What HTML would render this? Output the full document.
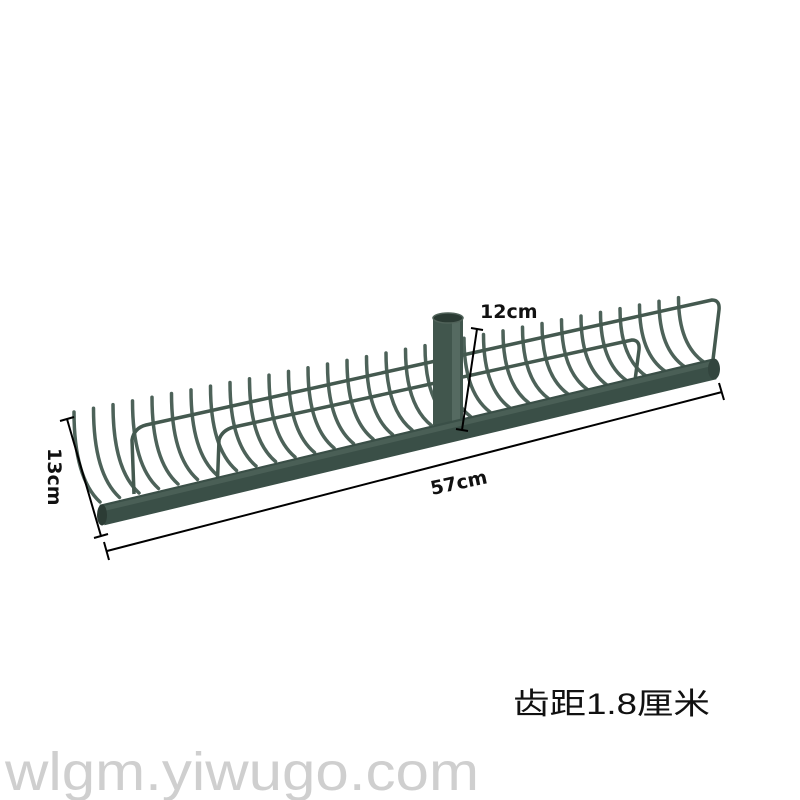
<!DOCTYPE html>
<html><head><meta charset="utf-8"><style>
html,body{margin:0;padding:0;background:#fff;}
svg{display:block;}
</style></head><body>
<svg width="800" height="800" viewBox="0 0 800 800" xmlns="http://www.w3.org/2000/svg">
<defs>
<path id="t" d="M0,0 Q-26,-24 -26,-90" fill="none" stroke="#4d6259" stroke-width="3.5" stroke-linecap="round" vector-effect="non-scaling-stroke"/>
</defs>
<rect width="800" height="800" fill="#fff"/>
<g>
<use href="#t" transform="translate(100,502) scale(1,1)"/>
<use href="#t" transform="translate(119.5,497.5) scale(1,0.991)"/>
<use href="#t" transform="translate(139,493) scale(1,0.982)"/>
<use href="#t" transform="translate(158.5,488.5) scale(1,0.973)"/>
<use href="#t" transform="translate(178,484) scale(1,0.964)"/>
<use href="#t" transform="translate(197.5,479.5) scale(1,0.955)"/>
<use href="#t" transform="translate(217,475) scale(1,0.946)"/>
<use href="#t" transform="translate(236.5,470.5) scale(1,0.937)"/>
<use href="#t" transform="translate(256,466) scale(1,0.928)"/>
<use href="#t" transform="translate(275.5,461.5) scale(1,0.919)"/>
<use href="#t" transform="translate(295,457) scale(1,0.91)"/>
<use href="#t" transform="translate(314.5,452.5) scale(1,0.901)"/>
<use href="#t" transform="translate(334,448) scale(1,0.892)"/>
<use href="#t" transform="translate(353.5,443.5) scale(1,0.883)"/>
<use href="#t" transform="translate(373,439) scale(1,0.874)"/>
<use href="#t" transform="translate(392.5,434.5) scale(1,0.865)"/>
<use href="#t" transform="translate(412,430) scale(1,0.856)"/>
<use href="#t" transform="translate(431.5,425.5) scale(1,0.847)"/>
<use href="#t" transform="translate(451,421) scale(1,0.838)"/>
<use href="#t" transform="translate(470.5,416.5) scale(1,0.829)"/>
<use href="#t" transform="translate(490,412) scale(1,0.82)"/>
<use href="#t" transform="translate(509.5,407.5) scale(1,0.811)"/>
<use href="#t" transform="translate(529,403) scale(1,0.802)"/>
<use href="#t" transform="translate(548.5,398.5) scale(1,0.793)"/>
<use href="#t" transform="translate(568,394) scale(1,0.784)"/>
<use href="#t" transform="translate(587.5,389.5) scale(1,0.775)"/>
<use href="#t" transform="translate(607,385) scale(1,0.766)"/>
<use href="#t" transform="translate(626.5,380.5) scale(1,0.757)"/>
<use href="#t" transform="translate(646,376) scale(1,0.748)"/>
<use href="#t" transform="translate(665.5,371.5) scale(1,0.739)"/>
<use href="#t" transform="translate(685,367) scale(1,0.73)"/>
<use href="#t" transform="translate(704.5,362.5) scale(1,0.721)"/>
</g>
<g fill="none" stroke="#44594f" stroke-width="3.5" stroke-linejoin="round">
<path d="M134,494 L132,440 Q134,428 146,425 L712,300 Q720,300 719,310 L712,368"/>
<path d="M217,494 L219,440 Q222,430 234,427 L632,340 Q640,340 639,350 L634,388"/>
</g>
<rect x="433" y="318" width="30" height="107" fill="#41564d"/>
<rect x="452" y="318" width="8" height="107" fill="#556a61"/>
<ellipse cx="448" cy="318" rx="15" ry="5" fill="#2a3a33" stroke="#506259" stroke-width="1.5"/>
<line x1="102" y1="515" x2="714" y2="369" stroke="#3a4f47" stroke-width="21"/>
<line x1="102" y1="509" x2="714" y2="363" stroke="#4a5f56" stroke-width="5"/>
<ellipse cx="714" cy="369" rx="6" ry="10.5" fill="#33453e"/>
<ellipse cx="102" cy="515" rx="5" ry="10.5" fill="#2c3c35"/>
<g stroke="#000" stroke-width="2" fill="none">
<line x1="67" y1="419" x2="101" y2="536"/><line x1="60" y1="421" x2="74" y2="417"/><line x1="94" y1="538" x2="108" y2="534"/>
<line x1="107" y1="551" x2="722" y2="392"/><line x1="104" y1="542" x2="109" y2="560"/><line x1="719" y1="383" x2="724" y2="400"/>
<line x1="477" y1="329" x2="462" y2="430"/><line x1="471" y1="328" x2="483" y2="330"/><line x1="456" y1="429" x2="468" y2="431"/>
</g>
<g font-family="'DejaVu Sans','Liberation Sans',sans-serif" font-weight="bold" font-size="19" fill="#111">
<text x="480" y="318">12cm</text>
<text x="0" y="0" transform="translate(432,495) rotate(-12)">57cm</text>
<text x="0" y="0" transform="translate(48,448) rotate(90)">13cm</text>
</g>
<text x="513" y="714" font-family="'Liberation Sans','Noto Sans CJK SC',sans-serif" font-size="30" fill="#111" textLength="197" lengthAdjust="spacingAndGlyphs">齿距1.8厘米</text>
<text x="5" y="790" font-family="'Liberation Sans',sans-serif" font-size="54" fill="#cfcfcf" textLength="474" lengthAdjust="spacingAndGlyphs">wlgm.yiwugo.com</text>
</svg>
</body></html>
